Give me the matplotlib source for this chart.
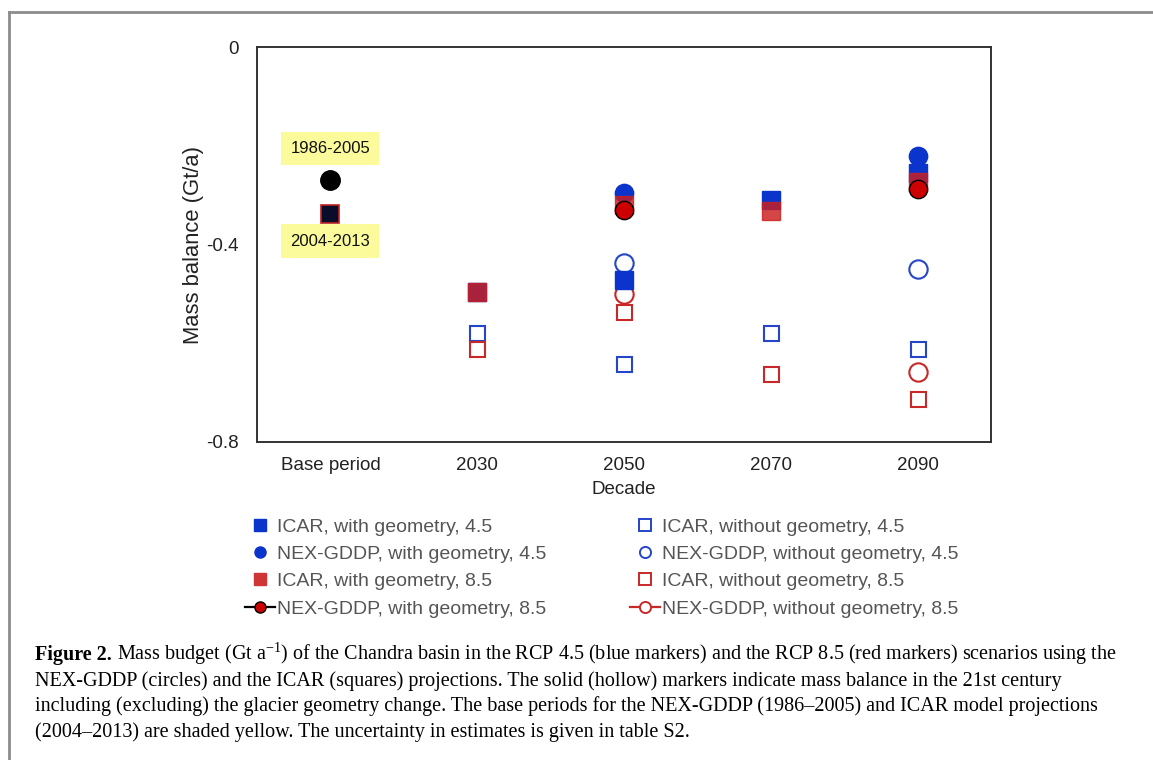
import matplotlib.pyplot as plt
import numpy as np
from matplotlib.lines import Line2D

plt.rcParams['font.family'] = ['Liberation Sans', 'DejaVu Sans']
plt.rcParams['mathtext.fontset'] = 'custom'
plt.rcParams['mathtext.rm'] = 'Liberation Serif'
plt.rcParams['mathtext.it'] = 'Liberation Serif:italic'

nan = np.nan
decades = ["Base period", "2030", "2050", "2070", "2090"]

# base period (shared by both scenarios)
base_nex = [-0.269, nan, nan, nan, nan]
base_icar = [-0.339, nan, nan, nan, nan]

icar_geo_45 = [nan, -0.497, -0.472, -0.310, -0.256]
nex_geo_45 = [nan, nan, -0.296, nan, -0.221]
icar_geo_85 = [nan, -0.497, -0.320, -0.332, -0.273]
nex_geo_85 = [nan, nan, -0.330, nan, -0.288]
icar_nogeo_45 = [nan, -0.579, -0.642, -0.579, -0.612]
nex_nogeo_45 = [nan, nan, -0.438, nan, -0.450]
icar_nogeo_85 = [nan, -0.612, -0.536, -0.663, -0.712]
nex_nogeo_85 = [nan, nan, -0.500, nan, -0.658]

blue = '#0b34cc'
blue_edge = '#2645c8'
red = '#cc1f1f'
red_edge = '#c82828'

fig = plt.figure(figsize=(11.53, 7.60), dpi=100)
ax = fig.add_axes([257/1153, 1-442/760, (991-257)/1153, (442-47)/760])
x = np.arange(len(decades))

# hollow markers
ax.plot(x, icar_nogeo_45, 's', ms=10.8, mfc='white', mec=blue_edge, mew=1.5, ls='none')
ax.plot(x, icar_nogeo_85, 's', ms=10.8, mfc='white', mec=red_edge, mew=1.5, ls='none')
ax.plot(x, nex_nogeo_45, 'o', ms=13.2, mfc='white', mec=blue_edge, mew=1.5, ls='none')
ax.plot(x, nex_nogeo_85, 'o', ms=13.2, mfc='white', mec=red_edge, mew=1.5, ls='none')

# solid markers
ax.plot(x, nex_geo_45, 'o', ms=13.2, color=blue, mec=blue, ls='none')
ax.plot(x, icar_geo_45, 's', ms=13.2, color=blue, mec=blue, ls='none')
ax.plot(x, icar_geo_85, 's', ms=13.2, color=red, mec=red, alpha=0.82, ls='none')
ax.plot(x, nex_geo_85, 'o', ms=13.2, mfc='#cc0000', mec='black', mew=1.0, ls='none')

# base period
ax.plot(x, base_nex, 'o', ms=14, color='black', ls='none')
ax.plot(x, base_icar, 's', ms=13.2, mfc='#0a0d2a', mec='#c02020', mew=1.2, ls='none')

for yv, lab in [(-0.206, "1986-2005"), (-0.393, "2004-2013")]:
    ax.text(0, yv, lab, ha='center', va='center', fontsize=12, color='#111111',
            bbox=dict(boxstyle='square,pad=0.55', fc='#fbfb9c', ec='none'))

ax.set_xlim(-0.5, 4.5)
ax.set_ylim(-0.8, 0)
ax.set_xticks(x)
ax.set_xticklabels(decades)
ax.set_yticks([0, -0.4, -0.8])
ax.set_yticklabels(["0", "-0.4", "-0.8"])
ax.tick_params(length=0, labelsize=13.5, pad=11, colors='#222222')
ax.tick_params(axis='y', pad=13)
for s in ax.spines.values():
    s.set_color('#333333')
    s.set_linewidth(1.4)
ax.set_xlabel("Decade", fontsize=13.5, color='#222222', labelpad=5)
ax.set_ylabel("Mass balance (Gt/a)", fontsize=15.8, color='#222222', labelpad=2)

# legend in two columns
ms_leg = 8
h1 = [
    Line2D([], [], marker='s', ls='none', ms=ms_leg, color=blue),
    Line2D([], [], marker='o', ls='none', ms=ms_leg, color=blue),
    Line2D([], [], marker='s', ls='none', ms=ms_leg, color='#d03535'),
    Line2D([], [], marker='o', ls='-', lw=1.6, ms=ms_leg, color='black', mfc='#cc0000', mec='black'),
]
l1 = ["ICAR, with geometry, 4.5", "NEX-GDDP, with geometry, 4.5",
      "ICAR, with geometry, 8.5", "NEX-GDDP, with geometry, 8.5"]
h2 = [
    Line2D([], [], marker='s', ls='none', ms=ms_leg, mfc='white', mec=blue_edge, mew=1.4),
    Line2D([], [], marker='o', ls='none', ms=ms_leg, mfc='white', mec=blue_edge, mew=1.4),
    Line2D([], [], marker='s', ls='none', ms=ms_leg, mfc='white', mec=red_edge, mew=1.4),
    Line2D([], [], marker='o', ls='-', lw=1.6, ms=ms_leg, color=red_edge, mfc='white', mec=red_edge, mew=1.4),
]
l2 = ["ICAR, without geometry, 4.5", "NEX-GDDP, without geometry, 4.5",
      "ICAR, without geometry, 8.5", "NEX-GDDP, without geometry, 8.5"]
for hs, ls_, x0 in [(h1, l1, 245), (h2, l2, 630)]:
    leg = fig.legend(hs, ls_, loc='upper left', bbox_to_anchor=(x0/1153, 1-518/760),
                     frameon=False, fontsize=14, borderpad=0, borderaxespad=0,
                     handlelength=1.55, handletextpad=0.1, labelspacing=0.5)
    for t in leg.get_texts():
        t.set_color('#555555')

# frame around figure
fig.add_artist(Line2D([9/1153, 9/1153], [0, 1-12/760], color='#8c8c8c', lw=2))
fig.add_artist(Line2D([9/1153, 1], [1-12/760, 1-12/760], color='#8c8c8c', lw=2))

# caption
cap_font = 'Liberation Serif'
cs = 14.5
y0 = 1 - 660/760
b = fig.text(35/1153, y0, "Figure 2.", fontsize=cs, family=cap_font,
             weight='bold', va='baseline')
r = fig.canvas.get_renderer()
bw = b.get_window_extent(r).width
fig.text((35 + bw)/1153, y0,
         " Mass budget (Gt a$^{-1}$) of the Chandra basin in the RCP 4.5 (blue markers) and the RCP 8.5 (red markers) scenarios using the",
         fontsize=cs, family=cap_font, va='baseline')
cap_lines = [
    "NEX-GDDP (circles) and the ICAR (squares) projections. The solid (hollow) markers indicate mass balance in the 21st century",
    "including (excluding) the glacier geometry change. The base periods for the NEX-GDDP (1986\u20132005) and ICAR model projections",
    "(2004\u20132013) are shaded yellow. The uncertainty in estimates is given in table S2.",
]
for i, line in enumerate(cap_lines):
    fig.text(35/1153, 1-(686 + 25.5*i)/760, line, fontsize=cs, family=cap_font, va='baseline')

fig.savefig("out.png", dpi=100)
